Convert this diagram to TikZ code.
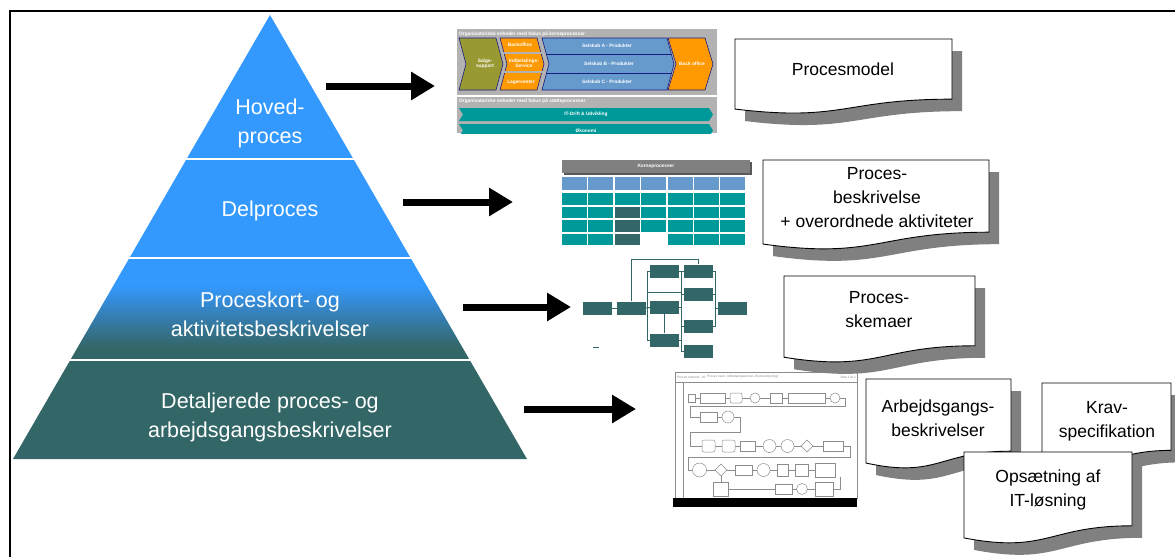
\documentclass[tikz,border=0pt]{standalone}
\usepackage{fontspec}
\setmainfont{Liberation Sans}
\usetikzlibrary{arrows.meta, positioning}
\definecolor{pyrblue}{HTML}{3399FF}
\definecolor{pyrteal}{HTML}{336666}
\definecolor{pyrmid}{HTML}{3584C4}
\definecolor{docshadow}{HTML}{808080}
\definecolor{thumbgray}{HTML}{B2B2B2}
\definecolor{olivechev}{HTML}{999933}
\definecolor{orangechev}{HTML}{FF9900}
\definecolor{bluechev}{HTML}{6699CC}
\definecolor{tealchev}{HTML}{009999}
\definecolor{navyline}{HTML}{1A1A80}
\definecolor{flowgray}{HTML}{8C8C8C}

\pgfdeclareverticalshading{bandshade}{100bp}{color(0bp)=(pyrteal); color(31bp)=(pyrteal); color(50bp)=(pyrmid); color(62bp)=(pyrblue); color(100bp)=(pyrblue)}

% document shape with shadow: x, y (top), width, height
\newcommand{\docbox}[4]{%
  \begin{scope}[shift={(#1+10,#2+12)}]
    \fill[docshadow] (0,0) -- (#3,0) -- (#3,0.802*#4) .. controls (0.5*#3,0.802*#4) and (0.5*#3,1.107*#4) .. (0,0.934*#4) -- cycle;
  \end{scope}
  \begin{scope}[shift={(#1,#2)}]
    \draw[fill=white, line width=0.9pt] (0,0) -- (#3,0) -- (#3,0.802*#4) .. controls (0.5*#3,0.802*#4) and (0.5*#3,1.107*#4) .. (0,0.934*#4) -- cycle;
  \end{scope}}

\tikzset{
  pyrtext/.style={text=white, font=\fontsize{21.5}{29}\selectfont, align=center},
  doctext/.style={font=\fontsize{17.5}{24}\selectfont, align=center},
  thumbtext/.style={text=white, font=\fontsize{4.8}{5.4}\selectfont\bfseries, inner sep=0pt, align=center},
  bigarrow/.style={line width=7pt, -{Triangle[length=24pt,width=27pt]}},
  flowbox/.style={fill=pyrteal, minimum width=29pt, minimum height=13pt, inner sep=0pt},
  flowline/.style={draw=pyrteal, line width=1pt},
  flowshape/.style={draw=flowgray, fill=white, line width=0.5pt}
}

\begin{document}
\begin{tikzpicture}[x=1pt, y=-1pt]

  \useasboundingbox (0,0) rectangle (1175,557);
  \fill[white] (0,0) rectangle (1175,557);
  \draw[line width=2.5pt] (10,557) -- (10,11) -- (1175,11);

  % pyramid
  \fill[pyrblue] (270,15) -- (353.4,159) -- (186.6,159) -- cycle;
  \fill[pyrblue] (186.6,159) -- (353.4,159) -- (410.6,258) -- (129.4,258) -- cycle;
  \shade[shading=bandshade] (129.4,258) -- (410.6,258) -- (469.7,360) -- (70.3,360) -- cycle;
  \fill[pyrteal] (70.3,360) -- (469.7,360) -- (527,459) -- (13,459) -- cycle;
  \draw[white, line width=2pt] (186,159) -- (354,159);
  \draw[white, line width=2pt] (129,258) -- (411,258);
  \draw[white, line width=2pt] (70,360) -- (470,360);

  \node[pyrtext] (hoved) at (270,123) {Hoved-\\proces};
  \node[pyrtext] (delproces) at (270,211) {Delproces};
  \node[pyrtext] (proceskort) at (270,314) {Proceskort- og\\aktivitetsbeskrivelser};
  \node[pyrtext] (detaljer) at (270,417) {Detaljerede proces- og\\arbejdsgangsbeskrivelser};

  % arrows
  \coordinate (a1s) at (326,86);
  \coordinate (a1e) at (435,86);
  \coordinate (a2s) at (403,202);
  \coordinate (a2e) at (513,202);
  \coordinate (a3s) at (463,307);
  \coordinate (a3e) at (571,307);
  \coordinate (a4s) at (524,409);
  \coordinate (a4e) at (636,409);
  \draw[bigarrow] (a1s) -- (a1e);
  \draw[bigarrow] (a2s) -- (a2e);
  \draw[bigarrow] (a3s) -- (a3e);
  \draw[bigarrow] (a4s) -- (a4e);

  % thumbnail: procesmodel
  \fill[thumbgray] (457,29) rectangle (717,133);
  \draw[white, line width=1.5pt] (457,96) -- (717,96);
  \node[thumbtext, anchor=west] (kernetitel) at (459,34) {Organisatoriske enheder med fokus på kerneprocesser};
  \draw[navyline, fill=olivechev, line width=0.6pt] (459,38) -- (496,38) -- (503,64) -- (496,90) -- (459,90) -- (466,64) -- cycle;
  \draw[navyline, fill=orangechev, line width=0.6pt] (500,38) -- (537,38) -- (544,64) -- (537,90) -- (500,90) -- (507,64) -- cycle;
  \draw[thumbgray, line width=1.2pt] (502,53) -- (543,53);
  \draw[thumbgray, line width=1.2pt] (502,72) -- (543,72);
  \draw[navyline, fill=bluechev, line width=0.6pt] (542,38) -- (667,38) -- (674,64) -- (667,90) -- (542,90) -- (549,64) -- cycle;
  \draw[navyline, line width=0.6pt] (546,54) -- (671,54);
  \draw[navyline, line width=0.6pt] (547,73) -- (672,73);
  \draw[navyline, fill=orangechev, line width=0.6pt] (668,38) -- (705,38) -- (713,64) -- (705,90) -- (668,90) -- (676,64) -- cycle;
  \node[thumbtext] (salg) at (485,64) {Salgs-\\support};
  \node[thumbtext] (backoffice) at (520,45) {Backoffice};
  \node[thumbtext] (indbetaling) at (524,63) {Indbetalings-\\Service};
  \node[thumbtext] (lager) at (521,82) {Lagercenter};
  \node[thumbtext] (selskabA) at (607,46) {Selskab A - Produkter};
  \node[thumbtext] (selskabB) at (609,64) {Selskab B - Produkter};
  \node[thumbtext] (selskabC) at (607,82) {Selskab C - Produkter};
  \node[thumbtext] (backoffice2) at (692,64) {Back office};
  \node[thumbtext, anchor=west] (stoettetitel) at (459,101) {Organisatoriske enheder med fokus på støtteprocesser};
  \begin{scope}
    \clip (457,96) rectangle (717,133);
    \fill[tealchev] (459,108) -- (709,108) -- (713,114.5) -- (709,121) -- (459,121) -- (463,114.5) -- cycle;
    \fill[tealchev] (459,124) -- (709,124) -- (713,130.5) -- (709,137) -- (459,137) -- (463,130.5) -- cycle;
    \node[thumbtext] (itdrift) at (586,114.5) {IT-Drift \& Udvikling};
    \node[thumbtext] (oekonomi) at (586,131) {Økonomi};
  \end{scope}

  % thumbnail: kerneprocesser
  \fill[black!65] (564,162) rectangle (752,175);
  \fill[docshadow] (562,160) rectangle (750,173);
  \node[thumbtext] (kerneproc) at (656,166.5) {Kerneprocesser};
  \foreach \i in {0,...,6} {
    \fill[bluechev] ({562+26.4*\i},177) rectangle ++(25,13);
    \fill[tealchev] ({562+26.4*\i},193) rectangle ++(25,11.5);
    \fill[tealchev] ({562+26.4*\i},206.5) rectangle ++(25,11.5);
    \fill[tealchev] ({562+26.4*\i},220) rectangle ++(25,11.5);
  }
  \foreach \i in {0,1,2,4,5,6} {
    \fill[tealchev] ({562+26.4*\i},233.5) rectangle ++(25,11);
  }
  \fill[pyrteal] (614.8,206.5) rectangle ++(25,11.5);
  \fill[pyrteal] (614.8,220) rectangle ++(25,11.5);
  \fill[pyrteal] (614.8,233.5) rectangle ++(25,11);

  % thumbnail: processkema
  \node[flowbox] (bestil) at (597.5,308) {};
  \node[flowbox] (faktura) at (631.5,308) {};
  \node[flowbox] (midt1) at (664.5,271) {};
  \node[flowbox] (midt2) at (664.5,307.5) {};
  \node[flowbox] (midt3) at (664.5,340) {};
  \node[flowbox] (selsk1) at (698.5,271) {};
  \node[flowbox] (selsk2) at (698.5,294) {};
  \node[flowbox] (selsk3) at (698.5,326.5) {};
  \node[flowbox] (selsk4) at (698.5,351.5) {};
  \node[flowbox] (afslut) at (732.5,308) {};
  \draw[flowline] (bestil) -- (faktura);
  \draw[flowline] (faktura) -- (midt2);
  \draw[flowline] (midt1.west) -- ++(-2,0) |- (midt3.west);
  \draw[flowline] (faktura.north) -- ++(0,-42) -| (selsk1.north);
  \draw[flowline] (midt1) -- (selsk1);
  \draw[flowline] (selsk1.west) -- ++(-2.5,0) |- (selsk4.west);
  \draw[flowline] (midt2.east) -- ++(2.5,0);
  \draw[flowline] (midt3.east) -- ++(2.5,0);
  \draw[flowline] (selsk2.west) -- ++(-2.5,0);
  \draw[flowline] (selsk3.west) -- ++(-2.5,0);
  \draw[flowline] (midt2) -- (midt3);
  \draw[flowline] (selsk1.east) -- ++(2.5,0) |- (selsk3.east);
  \draw[flowline] (selsk2.east) -- ++(2.5,0);
  \draw[flowline] (afslut.west) -- ++(-2.5,0);
  \draw[flowline, line width=0.6pt] (648,292) -- (681,292);
  \draw[flowline] (593,347) -- (599,347);

  % thumbnail: arbejdsgang
  \draw[flowgray, line width=0.5pt] (675,372) rectangle (857,498);
  \draw[flowgray, line width=0.4pt] (675,382) -- (857,382);
  \draw[flowgray, line width=0.4pt] (683,382) -- (683,498);
  \node[anchor=west, text=flowgray, font=\fontsize{3.2}{3.6}\selectfont, inner sep=0pt] (pnummer) at (677,377) {Proces nummer: 20};
  \node[anchor=west, text=flowgray, font=\fontsize{3.2}{3.6}\selectfont, inner sep=0pt] (pnavn) at (707,377) {Proces navn: Indbetalingsproces (Kontraktstyring)};
  \node[anchor=east, text=flowgray, font=\fontsize{3.2}{3.6}\selectfont, inner sep=0pt] (pside) at (856,377) {Side 1 af 1};
  \draw[flowgray, line width=0.5pt] (688,398) -- (845,398) -- (845,406) -- (690,406) -- (690,417) -- (740,417) -- (740,432) -- (690,432) -- (690,446) -- (850,446) -- (850,457) -- (688,457) -- (688,470) -- (835,470);
  \draw[flowgray, line width=0.5pt] (721,470) -- (721,489) -- (840,489) -- (840,477);
  \draw[flowshape] (688,394) rectangle (695,402);
  \draw[flowshape] (700,393) rectangle (725,403);
  \draw[flowshape, rounded corners=2pt] (730,393) rectangle (742,403);
  \draw[flowshape] (755,398) circle (5);
  \draw[flowshape] (770,393) rectangle (782,403);
  \draw[flowshape] (788,393) rectangle (825,403);
  \draw[flowshape] (835,398) circle (5);
  \draw[flowshape] (700,412) rectangle (717,422);
  \draw[flowshape] (728,417) circle (6);
  \draw[flowshape, rounded corners=2pt] (702,440) rectangle (715,452);
  \draw[flowshape, rounded corners=2pt] (722,440) rectangle (735,452);
  \draw[flowshape] (740,441) rectangle (755,451);
  \draw[flowshape] (769.5,446) circle (6.5);
  \draw[flowshape] (787.5,446) circle (6.5);
  \draw[flowshape] (807,440) -- (813,446) -- (807,452) -- (801,446) -- cycle;
  \draw[flowshape] (823,441) rectangle (843,451);
  \draw[flowshape] (699.5,470) circle (7);
  \draw[flowshape] (721,464) -- (727,470) -- (721,476) -- (715,470) -- cycle;
  \draw[flowshape] (735,465) rectangle (752,475);
  \draw[flowshape] (763.5,470) circle (6.5);
  \draw[flowshape] (777,464) rectangle (788,476);
  \draw[flowshape] (795,464) rectangle (808,476);
  \draw[flowshape] (815,463) rectangle (835,477);
  \draw[flowshape] (713,482) rectangle (728,496);
  \draw[flowshape] (775,484) rectangle (792,494);
  \draw[flowshape] (802,489) circle (5.5);
  \draw[flowshape] (815,482) rectangle (833,496);
  \fill[black] (673,498) rectangle (857,507);

  % documents
  \docbox{735}{39}{217}{75}
  \node[doctext] (procesmodel) at (843,69) {Procesmodel};
  \docbox{763}{160}{226}{90}
  \node[doctext] (beskrivelse) at (877,198) {Proces-\\beskrivelse\\+ overordnede aktiviteter};
  \docbox{784}{276}{191}{87}
  \node[doctext] (skemaer) at (879,310) {Proces-\\skemaer};
  \docbox{866}{379}{145}{90}
  \node[doctext] (arbejdsgang) at (938,418) {Arbejdsgangs-\\beskrivelser};
  \docbox{1042}{383}{129}{84}
  \node[doctext] (kravspec) at (1107,421) {Krav-\\specifikation};
  \docbox{964}{452}{168}{92}
  \node[doctext] (opsaetning) at (1048,490) {Opsætning af\\IT-løsning};

\end{tikzpicture}
\end{document}
